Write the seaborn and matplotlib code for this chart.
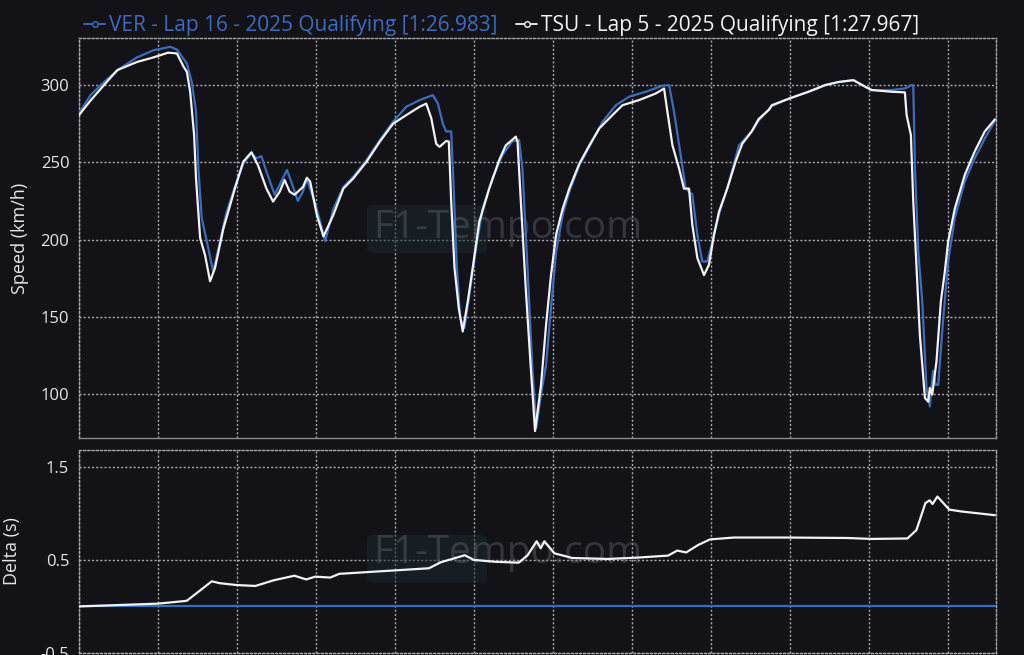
import numpy as np
import pandas as pd
import matplotlib
matplotlib.use("Agg")
import matplotlib.pyplot as plt
from matplotlib.lines import Line2D
from matplotlib.patches import FancyBboxPatch
import seaborn as sns

# --- data (distance in m, speed in km/h, delta in s) ---
ver_label = "VER - Lap 16 - 2025 Qualifying [1:26.983]"
tsu_label = "TSU - Lap 5 - 2025 Qualifying [1:27.967]"

ver_dist = [0, 73, 158, 263, 368, 473, 578, 620, 683, 714, 741, 756, 777, 809, 850, 882,
            935, 998, 1040, 1092, 1124, 1155, 1187, 1239, 1317, 1344, 1386, 1418, 1443,
            1500, 1559, 1611, 1674, 1737, 1821, 1905, 1989, 2073, 2157, 2241, 2273, 2304,
            2325, 2357, 2372, 2393, 2414, 2441, 2472, 2514, 2556, 2619, 2682, 2745, 2787,
            2808, 2840, 2871, 2896, 2926, 2958, 2989, 3021, 3063, 3105, 3168, 3232, 3316,
            3400, 3484, 3589, 3695, 3737, 3768, 3810, 3842, 3884, 3916, 3947, 3979, 4021,
            4063, 4105, 4179, 4260, 4304, 4368, 4388, 4500, 4620, 4725, 4809, 4904, 4978,
            5020, 5146, 5230, 5273, 5283, 5294, 5315, 5340, 5367, 5388, 5409, 5424, 5441,
            5473, 5504, 5546, 5609, 5672, 5736, 5800]
ver_speed = [281.7, 293.5, 302, 311, 318, 322.6, 324.8, 323, 314, 302, 283, 246, 214, 199,
             179, 194, 218, 237.5, 249, 256, 252.6, 254, 244, 229, 245, 237.5, 225, 231,
             239, 222, 199, 220, 234, 240.7, 251.5, 264.4, 276.3, 286, 290.3, 293.5, 288,
             275, 270, 270, 235, 181.5, 149, 142.7, 164, 194.4, 220, 240, 254.7, 263.8,
             264.4, 246, 181.5, 117, 78, 100, 119, 155.6, 192, 216, 231, 248, 260, 276.3,
             287, 292.5, 295.7, 299.6, 300, 282.8, 254.7, 233, 229, 203, 185.8, 185.8, 203,
             220, 233, 261, 270, 277, 284, 286.5, 291.4, 295.7, 300, 302, 303.2, 299,
             296.8, 296.8, 297.8, 300, 300, 246, 192, 160, 104, 92, 115, 106, 106,
             149, 186, 214, 237.5, 252.6, 265.5, 276.8]

tsu_dist = [0, 73, 158, 242, 368, 473, 564, 620, 662, 683, 704, 729, 741, 767, 798, 830,
            861, 914, 987, 1040, 1092, 1134, 1187, 1229, 1271, 1302, 1334, 1365, 1418,
            1443, 1464, 1506, 1548, 1611, 1674, 1737, 1821, 1905, 1989, 2073, 2157, 2199,
            2231, 2262, 2283, 2325, 2342, 2357, 2378, 2405, 2430, 2462, 2493, 2535, 2598,
            2661, 2703, 2766, 2777, 2798, 2829, 2861, 2888, 2926, 2958, 2989, 3021, 3063,
            3105, 3168, 3232, 3295, 3389, 3442, 3547, 3653, 3705, 3726, 3758, 3800, 3831,
            3863, 3884, 3916, 3958, 3989, 4021, 4053, 4105, 4158, 4200, 4260, 4304, 4368,
            4388, 4500, 4620, 4725, 4809, 4904, 4978, 5020, 5146, 5230, 5241, 5268, 5283,
            5304, 5325, 5357, 5378, 5388, 5403, 5430, 5458, 5483, 5504, 5546, 5609, 5672,
            5736, 5800]
tsu_speed = [280.6, 290, 300, 309.7, 315, 318, 321, 320.5, 312, 308.6, 295.7, 267.7, 239.6,
             201, 190, 173, 181.5, 207, 233, 250.4, 256.5, 248, 233, 224.6, 231, 238.6,
             231, 229, 234, 240, 237.5, 216, 202, 216, 233, 239.6, 250.4, 263.4, 275,
             280.6, 286, 288, 278.5, 262, 260, 263.8, 263.4, 224.6, 181.5, 155.6, 140.5,
             160, 181.5, 211.6, 233, 251.5, 261, 266.6, 263.4, 224.6, 168.5, 117, 76, 106,
             145, 177, 203, 220, 233, 249, 261, 272, 281.7, 287, 290.3, 294.6, 297.8,
             282.8, 261, 246, 233, 233, 209.5, 188, 177, 183.6, 203, 218, 233, 250.4, 262,
             270, 278, 284, 287, 291.4, 295.7, 300, 302, 303.2, 299, 296.8, 295.7, 295.3,
             280.6, 267.7, 224.6, 181.5, 138, 97.4, 95, 104, 99.6, 121, 160, 179.3, 198.7,
             220, 241.8, 257, 270, 277.8]

ver_delta_dist = [0, 5800]
ver_delta = [0, 0]
tsu_delta_dist = [0, 500, 682, 758, 841, 890, 996, 1117, 1231, 1364, 1439, 1496, 1591, 1648,
                  1837, 2027, 2216, 2292, 2443, 2500, 2633, 2784, 2841, 2898, 2924, 2947,
                  3011, 3125, 3352, 3542, 3731, 3788, 3845, 3921, 3996, 4148, 4489, 4867,
                  5019, 5246, 5303, 5360, 5387, 5405, 5436, 5511, 5587, 5800]
tsu_delta = [0, 0.03, 0.06, 0.16, 0.27, 0.25, 0.23, 0.22, 0.28, 0.33, 0.29, 0.32, 0.31, 0.35,
             0.37, 0.39, 0.41, 0.475, 0.55, 0.5, 0.48, 0.47, 0.55, 0.70, 0.625, 0.70, 0.57,
             0.52, 0.51, 0.525, 0.546, 0.60, 0.58, 0.66, 0.72, 0.74, 0.74, 0.735, 0.725,
             0.73, 0.82, 1.11, 1.14, 1.10, 1.18, 1.04, 1.02, 0.98]

dist_ticks = list(range(0, 6000, 500))
speed_ticks = [100, 150, 200, 250, 300]
delta_ticks = [-0.5, 0.5, 1.5]

BG = "#131217"
BLUE = "#3a6dbf"
WHITE = "#f2f2f2"
GRID = "#a8a8a8"
TEXT = "#e6e6e6"

sns.set_theme(style="dark")
plt.rcParams["font.family"] = ["Open Sans", "DejaVu Sans"]
plt.rcParams.update({
    "figure.facecolor": BG,
    "axes.facecolor": BG,
    "text.color": TEXT,
    "axes.labelcolor": TEXT,
    "xtick.color": TEXT,
    "ytick.color": TEXT,
})

speed_df = pd.concat([
    pd.DataFrame({"Distance": ver_dist, "Speed": ver_speed, "Driver": "VER"}),
    pd.DataFrame({"Distance": tsu_dist, "Speed": tsu_speed, "Driver": "TSU"}),
])
delta_df = pd.concat([
    pd.DataFrame({"Distance": ver_delta_dist, "Delta": ver_delta, "Driver": "VER"}),
    pd.DataFrame({"Distance": tsu_delta_dist, "Delta": tsu_delta, "Driver": "TSU"}),
])
palette = {"VER": BLUE, "TSU": WHITE}

fig = plt.figure(figsize=(10.24, 6.55), dpi=100)
ax1 = fig.add_axes([79 / 1024, 1 - 438 / 655, 917 / 1024, 400 / 655])
ax2 = fig.add_axes([79 / 1024, 1 - 653 / 655, 917 / 1024, 203 / 655])

sns.lineplot(data=speed_df, x="Distance", y="Speed", hue="Driver", palette=palette,
             hue_order=["VER", "TSU"], sort=False, estimator=None, linewidth=1.6,
             legend=False, ax=ax1, zorder=3)
sns.lineplot(data=delta_df, x="Distance", y="Delta", hue="Driver", palette=palette,
             hue_order=["VER", "TSU"], sort=False, estimator=None, linewidth=1.6,
             legend=False, ax=ax2, zorder=3)

ax1.set_ylim(71.5, 330.5)
ax2.set_ylim(-0.5, 1.68)
ax1.set_yticks(speed_ticks)
ax2.set_yticks(delta_ticks)
ax2.set_yticklabels(["-0.5", "0.5", "1.5"])

for ax in (ax1, ax2):
    ax.set_xlim(0, 5807)
    ax.set_xticks(dist_ticks)
    ax.set_xticklabels([])
    ax.set_xlabel("")
    ax.tick_params(axis="x", length=0)
    ax.tick_params(axis="y", length=4, width=1, color=GRID, labelsize=12, pad=3)
    ax.grid(True, color=GRID, linestyle=(0, (1.5, 1.5)), linewidth=1)
    for side in ax.spines.values():
        side.set_visible(True)
        side.set_color(GRID)
        side.set_linestyle((0, (1.5, 1.5)))
        side.set_linewidth(1)
ax1.spines["bottom"].set_linestyle("-")
ax1.spines["bottom"].set_color("#8a8a8a")

ax1.set_ylabel("Speed (km/h)", fontsize=13, labelpad=8)
ax2.set_ylabel("Delta (s)", fontsize=13, labelpad=14)

# watermark
for cy, by in ((228, 205), (553, 535)):
    box = FancyBboxPatch((367 / 1024, 1 - (by + 48) / 655), 120 / 1024, 48 / 655,
                         boxstyle="round,pad=0,rounding_size=0.008",
                         transform=fig.transFigure, facecolor="#1c2a30", alpha=0.5,
                         edgecolor="none", zorder=1)
    ax = ax1 if cy < 440 else ax2
    ax.add_patch(box)
    box.set_clip_on(False)
    ax.text(508 / 1024, 1 - cy / 655, "F1-Tempo.com", transform=fig.transFigure,
            ha="center", va="center", fontsize=28, color="#6a6a72", alpha=0.4, zorder=2)

handles = [
    Line2D([], [], color=BLUE, marker="o", markersize=4, markerfacecolor=BG, lw=1.3),
    Line2D([], [], color=WHITE, marker="o", markersize=4, markerfacecolor=BG, lw=1.3),
]
fig.legend(handles, [ver_label, tsu_label], loc="upper center", bbox_to_anchor=(0.49, 1.005),
           ncol=2, frameon=False, fontsize=15, handlelength=1.0, handletextpad=0.2,
           columnspacing=0.9, numpoints=1, labelcolor=[BLUE, WHITE])

fig.savefig("out.png", dpi=100, facecolor=BG)
